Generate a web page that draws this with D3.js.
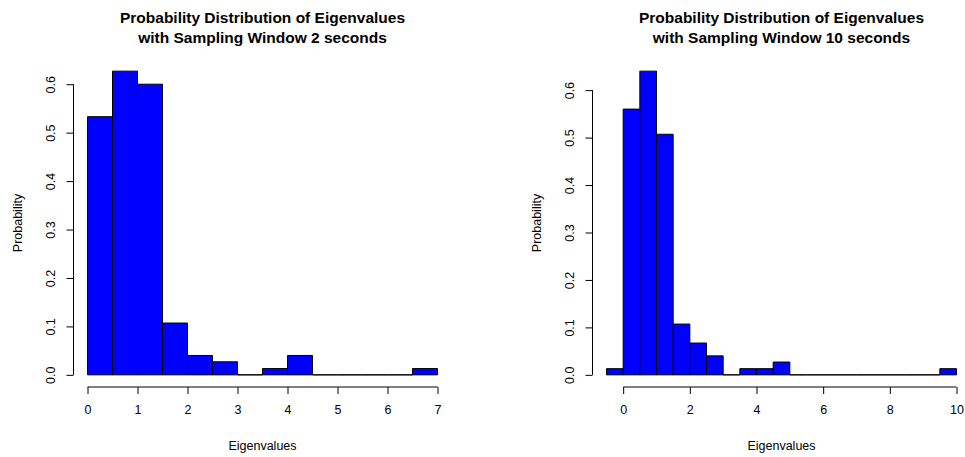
<!DOCTYPE html>
<html>
<head>
<meta charset="utf-8">
<script src="https://cdn.jsdelivr.net/npm/d3@7"></script>
<style>
  html, body { margin: 0; padding: 0; background: #fff; }
  svg { display: block; font-family: "Liberation Sans", Arial, sans-serif; }
</style>
</head>
<body>
<svg id="chart" width="965" height="457"></svg>
<script>
// Histogram of eigenvalues, 2-second sampling window (bin width 0.5)
const binStart2s = [0, 0.5, 1, 1.5, 2, 2.5, 3, 3.5, 4, 4.5, 5, 5.5, 6, 6.5];
const prob2s     = [0.533, 0.627, 0.600, 0.107, 0.040, 0.027, 0, 0.013, 0.040, 0, 0, 0, 0, 0.013];
const xTicks2s   = [0, 1, 2, 3, 4, 5, 6, 7];

// Histogram of eigenvalues, 10-second sampling window (bin width 0.5)
const binStart10s = [-0.5, 0, 0.5, 1, 1.5, 2, 2.5, 3, 3.5, 4, 4.5, 5, 5.5, 6, 6.5, 7, 7.5, 8, 8.5, 9, 9.5];
const prob10s     = [0.013, 0.560, 0.640, 0.507, 0.107, 0.067, 0.040, 0, 0.013, 0.013, 0.027, 0, 0, 0, 0, 0, 0, 0, 0, 0, 0.013];
const xTicks10s   = [0, 2, 4, 6, 8, 10];

const yTicks = [0, 0.1, 0.2, 0.3, 0.4, 0.5, 0.6];
const binWidth = 0.5;

const svg = d3.select("#chart");

function panel(opts) {
  const { left, top, width, height, starts, probs, xTicks, title } = opts;
  const xMin = d3.min(starts), xMax = d3.max(starts) + binWidth;
  const yMax = d3.max(probs);
  // 4% padding on each side of the data range
  const xPad = (xMax - xMin) * 0.04, yPad = yMax * 0.04;

  const x = d3.scaleLinear().domain([xMin - xPad, xMax + xPad]).range([left, left + width]);
  const y = d3.scaleLinear().domain([-yPad, yMax + yPad]).range([top + height, top]);

  const g = svg.append("g");

  // bars as closed paths so that empty bins still show as a line on the baseline
  g.selectAll("path.bar")
    .data(starts.map((s, i) => ({ s, p: probs[i] })))
    .join("path")
    .attr("class", "bar")
    .attr("d", d => {
      const x0 = x(d.s), x1 = x(d.s + binWidth), y0 = y(0), y1 = y(d.p);
      return `M${x0},${y0}V${y1}H${x1}V${y0}Z`;
    })
    .attr("fill", "#0000ff")
    .attr("stroke", "#000")
    .attr("stroke-width", 1);

  // x axis, offset below the plot like base graphics
  const xAxisY = top + height;
  const xa = g.append("g")
    .attr("transform", `translate(0,${xAxisY})`)
    .call(d3.axisBottom(x).tickValues(xTicks).tickSize(7).tickSizeOuter(0).tickPadding(11)
      .tickFormat(d3.format("d")));
  xa.select(".domain").attr("d", `M${x(xTicks[0])},0H${x(xTicks[xTicks.length - 1])}`);
  xa.selectAll("line, path").attr("stroke", "#000");
  xa.selectAll("text").attr("font-size", 12.5).attr("fill", "#000")
    .attr("font-family", "Liberation Sans, Arial, sans-serif");

  // y axis
  const ya = g.append("g")
    .attr("transform", `translate(${left},0)`)
    .call(d3.axisLeft(y).tickValues(yTicks).tickSize(7).tickSizeOuter(0).tickFormat(d3.format(".1f")));
  ya.select(".domain").attr("d", `M0,${y(yTicks[0])}V${y(yTicks[yTicks.length - 1])}`);
  ya.selectAll("line, path").attr("stroke", "#000");
  ya.selectAll(".tick text")
    .attr("font-size", 12.5).attr("fill", "#000")
    .attr("font-family", "Liberation Sans, Arial, sans-serif")
    .attr("x", null).attr("dy", null)
    .attr("text-anchor", "middle")
    .attr("transform", "translate(-19,0) rotate(-90)");

  // axis titles
  g.append("text")
    .attr("x", left + width / 2).attr("y", 450)
    .attr("text-anchor", "middle").attr("font-size", 12.5)
    .text("Eigenvalues");
  g.append("text")
    .attr("transform", `translate(${left - 52},${top + height / 2}) rotate(-90)`)
    .attr("text-anchor", "middle").attr("font-size", 12.5)
    .text("Probability");

  // main title, two lines
  const t = g.append("text")
    .attr("text-anchor", "middle").attr("font-size", 15.5).attr("font-weight", "bold");
  title.forEach((line, i) => {
    t.append("tspan").attr("x", left + width / 2).attr("y", 23 + i * 19.5).text(line);
  });
}

panel({
  left: 73.5, top: 59, width: 378, height: 328,
  starts: binStart2s, probs: prob2s, xTicks: xTicks2s,
  title: ["Probability Distribution of Eigenvalues", "with Sampling Window 2 seconds"]
});

panel({
  left: 592.5, top: 59, width: 378, height: 328,
  starts: binStart10s, probs: prob10s, xTicks: xTicks10s,
  title: ["Probability Distribution of Eigenvalues", "with Sampling Window 10 seconds"]
});
</script>
</body>
</html>
